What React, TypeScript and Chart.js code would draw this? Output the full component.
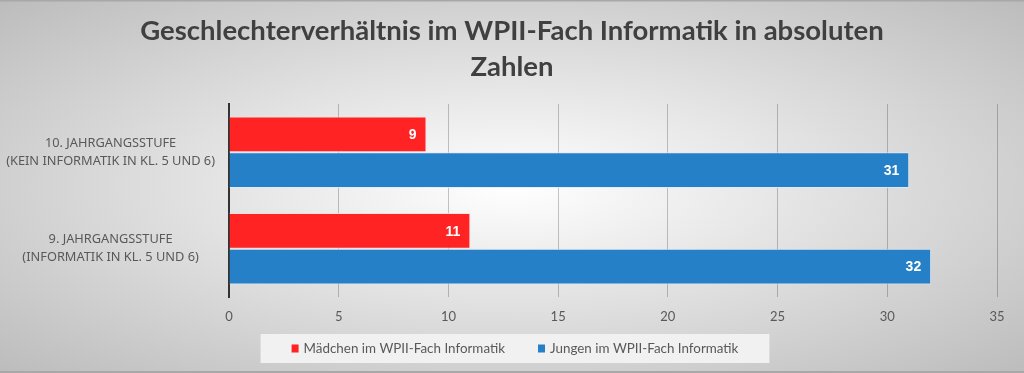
import React, { useEffect, useRef } from 'react';
import { Chart, registerables } from 'chart.js';

Chart.register(...registerables);

const titleLines = ['Geschlechterverhältnis im WPII-Fach Informatik in absoluten', 'Zahlen'];
const categories = [
  ['10. JAHRGANGSSTUFE', '(KEIN INFORMATIK IN KL. 5 UND 6)'],
  ['9. JAHRGANGSSTUFE', '(INFORMATIK IN KL. 5 UND 6)'],
];
const seriesNames = ['Mädchen im WPII-Fach Informatik', 'Jungen im WPII-Fach Informatik'];
const girls = [9, 11];
const boys = [31, 32];
const xMin = 0;
const xMax = 35;
const xStep = 5;

const RED = '#FF2323';
const BLUE = '#2680C8';
const SANS = 'Lato, "Noto Sans", sans-serif';

const bgPlugin = {
  id: 'bgPlugin',
  afterLayout(chart: any) {
    // center the title over the full canvas width
    if (chart.titleBlock) {
      chart.titleBlock.left = 0;
      chart.titleBlock.right = chart.width;
      chart.titleBlock.width = chart.width;
    }
  },
  beforeDraw(chart: any) {
    const { ctx, width, height } = chart;
    ctx.save();
    const cx = width / 2;
    const cy = height / 2;
    ctx.translate(cx, cy);
    ctx.scale(1, height / width);
    const r = (Math.sqrt(2) * width) / 2;
    const g = ctx.createRadialGradient(0, 0, 0, 0, 0, r);
    g.addColorStop(0, '#ffffff');
    g.addColorStop(1, '#bcbcbc');
    ctx.fillStyle = g;
    ctx.fillRect(-cx, -cx, width, width);
    ctx.restore();
    ctx.save();
    ctx.fillStyle = '#a8a8a8';
    ctx.fillRect(0, 0, width, 1.5);
    ctx.fillRect(0, height - 2, width, 2);
    ctx.restore();
  },
  afterDraw(chart: any) {
    const { ctx, width } = chart;
    const ds = chart.data.datasets;
    ctx.save();
    ctx.font = `13.4px ${SANS}`;
    const boxW = 7;
    const boxH = 8;
    const gap = 5;
    const itemGap = 33;
    const widths = ds.map((d: any) => boxW + gap + ctx.measureText(d.label).width);
    const total = widths.reduce((a: number, b: number) => a + b, 0) + itemGap * (ds.length - 1);
    const centerX = width / 2 + 3;
    const top = 334;
    const bottom = 363;
    const padX = 31;
    let x = centerX - total / 2;
    ctx.fillStyle = 'rgba(242,242,242,0.95)';
    ctx.fillRect(x - padX, top, total + padX * 2, bottom - top);
    const midY = (top + bottom) / 2;
    ds.forEach((d: any, i: number) => {
      ctx.fillStyle = d.backgroundColor;
      ctx.fillRect(x, midY - boxH / 2, boxW, boxH);
      ctx.fillStyle = '#595959';
      ctx.textBaseline = 'middle';
      ctx.textAlign = 'left';
      ctx.fillText(d.label, x + boxW + gap, midY);
      x += widths[i] + itemGap;
    });
    ctx.restore();
  },
};

const labelPlugin = {
  id: 'labelPlugin',
  afterDatasetsDraw(chart: any) {
    const { ctx } = chart;
    ctx.save();
    ctx.font = 'bold 14px "Liberation Sans", Arial, sans-serif';
    ctx.fillStyle = '#ffffff';
    ctx.textAlign = 'right';
    ctx.textBaseline = 'middle';
    chart.data.datasets.forEach((d: any, i: number) => {
      const meta = chart.getDatasetMeta(i);
      meta.data.forEach((bar: any, j: number) => {
        ctx.fillText(String(d.data[j]), bar.x - 10, bar.y + 1);
      });
    });
    ctx.restore();
  },
};

export default function App() {
  const ref = useRef<HTMLCanvasElement | null>(null);
  useEffect(() => {
    if (!ref.current) return;
    const chart = new Chart(ref.current, {
      type: 'bar',
      data: {
        labels: categories as any,
        datasets: [
          {
            label: seriesNames[0],
            data: girls,
            backgroundColor: RED,
            borderColor: 'rgba(255,220,220,0.8)',
            borderWidth: 1,
            categoryPercentage: 0.74,
            barPercentage: 1.0,
          },
          {
            label: seriesNames[1],
            data: boys,
            backgroundColor: BLUE,
            borderColor: 'rgba(220,235,250,0.8)',
            borderWidth: 1,
            categoryPercentage: 0.74,
            barPercentage: 1.0,
          },
        ],
      },
      options: {
        indexAxis: 'y',
        animation: false,
        responsive: false,
        devicePixelRatio: 1,
        layout: { padding: { left: 0, right: 27, top: 0, bottom: 0 } },
        plugins: {
          legend: { display: false },
          tooltip: { enabled: false },
          title: {
            display: true,
            text: titleLines,
            color: '#404040',
            font: { family: SANS, size: 27.5, weight: 'bold', lineHeight: 1.31 },
            padding: { top: 13, bottom: 19 },
          },
        },
        scales: {
          x: {
            min: xMin,
            max: xMax,
            z: 1,
            ticks: {
              stepSize: xStep,
              color: '#595959',
              font: { family: SANS, size: 13 },
              padding: 12,
            },
            grid: { color: 'rgba(0,0,0,0.22)', lineWidth: 1, drawTicks: false },
            border: { display: false },
            afterFit: (s: any) => {
              s.height = 76;
            },
          },
          y: {
            z: 1,
            ticks: {
              color: '#595959',
              crossAlign: 'center',
              font: { family: '"Noto Sans", sans-serif', size: 12.8, lineHeight: 1.4 },
              padding: 14,
            },
            grid: { display: false, drawTicks: false },
            border: { display: true, color: '#333333', width: 2 },
            afterFit: (s: any) => {
              s.width = 229;
            },
          },
        },
      },
      plugins: [bgPlugin, labelPlugin],
    });
    return () => chart.destroy();
  }, []);
  return (
    <div style={{ position: 'fixed', left: 0, top: 0, width: 1024, height: 373 }}>
      <canvas ref={ref} width={1024} height={373} />
    </div>
  );
}
